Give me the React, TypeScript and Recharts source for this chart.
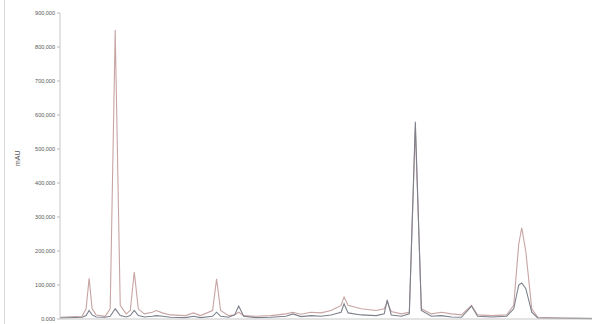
import React from 'react';
import { LineChart, Line, XAxis, YAxis } from 'recharts';

// retention time (min) and detector response for the two runs
const times = [
  0, 2.2, 2.6, 2.9, 3.2, 3.6, 4.5, 5.0, 5.5, 6.0, 6.6, 7.0, 7.4, 7.8, 8.4, 9.2, 9.6, 10.2, 11.0,
  12.5, 13.3, 14.0, 15.2, 15.6, 16.0, 16.8, 17.4, 17.8, 18.3, 19.5, 21.0, 22.5, 23.2, 24.0, 25.0,
  26.0, 27.0, 28.0, 28.3, 28.7, 30.0, 31.5, 32.3, 32.6, 33.0, 34.0, 34.8, 35.4, 36.0, 37.0, 38.0,
  39.0, 40.0, 41.0, 41.6, 43.0, 44.5, 45.2, 45.7, 46.0, 46.4, 47.0, 47.6, 50.0, 53.0,
];
const runA = [
  5000, 8000, 30000, 120000, 30000, 12000, 8000, 30000, 850000, 40000, 15000, 25000, 138000, 30000,
  15000, 20000, 25000, 18000, 12000, 10000, 18000, 10000, 25000, 118000, 25000, 10000, 12000, 20000,
  10000, 8000, 10000, 15000, 20000, 14000, 20000, 18000, 25000, 40000, 65000, 40000, 30000, 25000,
  30000, 50000, 22000, 15000, 20000, 560000, 30000, 15000, 20000, 15000, 12000, 40000, 12000, 10000,
  12000, 40000, 220000, 268000, 200000, 30000, 5000, 3000, 2000,
];
const runB = [
  3000, 5000, 10000, 25000, 12000, 6000, 5000, 8000, 30000, 10000, 6000, 10000, 25000, 10000, 6000,
  8000, 10000, 8000, 5000, 4000, 8000, 4000, 8000, 20000, 8000, 5000, 12000, 38000, 8000, 4000, 5000,
  8000, 15000, 7000, 10000, 8000, 12000, 20000, 45000, 18000, 12000, 10000, 15000, 56000, 12000, 8000,
  15000, 580000, 25000, 8000, 10000, 6000, 5000, 38000, 8000, 6000, 8000, 30000, 100000, 106000, 90000,
  20000, 3000, 2000, 1000,
];
const yTicks = [0, 100000, 200000, 300000, 400000, 500000, 600000, 700000, 800000, 900000];
const yTickLabels = ['0.000', '100,000', '200,000', '300,000', '400,000', '500,000', '600,000', '700,000', '800,000', '900,000'];

const data = times.map((t, i) => ({ t, a: runA[i], b: runB[i] }));

const App: React.FC = () => (
  <div style={{ position: 'absolute', left: 0, top: 0, width: 606, height: 324, background: '#fff' }}>
    <div style={{ position: 'absolute', left: 4, top: 0, width: 0, height: 324, borderLeft: '1px solid #d8d8d8' }} />
    <LineChart width={606} height={324} data={data} margin={{ top: 13, right: 14, bottom: 4, left: 0 }}>
      <XAxis
        dataKey="t"
        type="number"
        domain={[0, 53]}
        tick={false}
        tickLine={false}
        height={1}
        axisLine={{ stroke: '#c8c8c8' }}
      />
      <YAxis
        width={60}
        domain={[0, 900000]}
        ticks={yTicks}
        interval={0}
        tickFormatter={(v: number) => yTickLabels[yTicks.indexOf(v)]}
        tick={{ fontSize: 5.5, fill: '#555', fontFamily: 'Liberation Sans' }}
        tickLine={{ stroke: '#bbb' }}
        tickSize={3}
        axisLine={{ stroke: '#c8c8c8' }}
        label={{ value: 'mAU', angle: -90, position: 'insideLeft', offset: 18, fontSize: 7, fill: '#555', fontFamily: 'Liberation Sans' }}
      />
      <Line type="linear" dataKey="a" stroke="#c8a4a4" strokeWidth={1.1} dot={false} isAnimationActive={false} />
      <Line type="linear" dataKey="b" stroke="#7c818c" strokeWidth={1.1} dot={false} isAnimationActive={false} />
    </LineChart>
  </div>
);

export default App;
